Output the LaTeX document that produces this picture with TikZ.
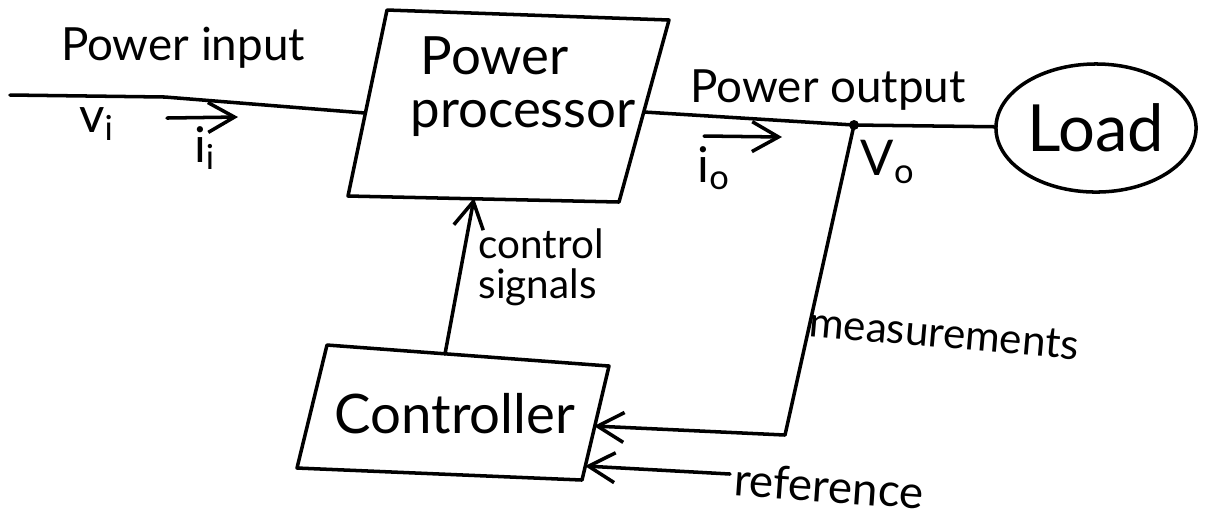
\documentclass[tikz,border=0pt]{standalone}
\usepackage{fontspec}
\setmainfont{Lato}
\usetikzlibrary{arrows.meta,shapes.geometric}
\tikzset{
  wire/.style={line width=1pt, line cap=round, line join=round},
  sig/.style={wire, -{Straight Barb[length=7.5pt,width=8.5pt,line width=1pt]}},
  txt/.style={inner sep=0pt, font=\fontsize{#1}{#1}\selectfont},
  txt/.default=13,
}
\begin{document}
\begin{tikzpicture}[x=0.01cm, y=-0.01cm]
  \useasboundingbox (0,0) rectangle (1207,517);

  % power processor block
  \coordinate (pa) at (387,10);
  \coordinate (pb) at (669,20);
  \coordinate (pc) at (619,202);
  \coordinate (pd) at (348,196);
  \draw[wire] (pa) -- (pb) -- (pc) -- (pd) -- cycle;
  \node[txt=15, anchor=west] (ppt1) at (420,56) {Power};
  \node[txt=15, anchor=west] (ppt2) at (410,118) {processor};
  \coordinate (pin) at (365,113);
  \coordinate (pout) at (644,112);
  \coordinate (pbot) at (474,198);

  % controller block
  \coordinate (ca) at (327,345);
  \coordinate (cb) at (609,366);
  \coordinate (cc) at (582,480);
  \coordinate (cd) at (297,468);
  \draw[wire] (ca) -- (cb) -- (cc) -- (cd) -- cycle;
  \node[txt=15.5] (ctl) at (455,414) {Controller};
  \coordinate (ctop) at (445,354);
  \coordinate (cmeas) at (594,426);
  \coordinate (cref) at (585,466);

  % load
  \node[txt=18.5, draw, wire, ellipse, minimum width=2cm, minimum height=1.28cm]
    (load) at (1096,128) {Load};

  % input side
  \coordinate (src) at (10,95);
  \coordinate (bend) at (165,97);
  \draw[wire] (src) -- (bend) -- (pin);
  \node[txt] (pint) at (183,48) {Power input};
  \node[txt=14] (vi) at (97,124) {v\textsubscript{i}};
  \coordinate (ia) at (167,118);
  \coordinate (ib) at (238,117);
  \draw[sig] (ia) -- (ib);
  \node[txt=14] (ii) at (205,148) {i\textsubscript{i}};

  % output side
  \coordinate (dot) at (854,125);
  \draw[wire] (pout) -- (dot) -- (load);
  \fill (dot) circle (5);
  \node[txt] (poutt) at (828,90) {Power output};
  \coordinate (oa) at (704,136);
  \coordinate (ob) at (782,137);
  \draw[sig] (oa) -- (ob);
  \node[txt=14] (io) at (714,168) {i\textsubscript{o}};
  \node[txt=14] (vo) at (888,162) {V\textsubscript{o}};

  % feedback paths
  \coordinate (mc) at (785,435);
  \draw[sig] (dot) -- (mc) -- (cmeas);
  \node[txt=12, rotate=-5] (meas) at (944,334) {measurements};
  \draw[sig] (ctop) -- (pbot);
  \node[txt=11.5, align=left, anchor=north west] (cs) at (478,228)
    {\fontsize{11.5}{17}\selectfont control\\signals};
  \coordinate (rs) at (730,474);
  \draw[sig] (rs) -- (cref);
  \node[txt=13, rotate=-4] (ref) at (829,486) {reference};
\end{tikzpicture}
\end{document}
